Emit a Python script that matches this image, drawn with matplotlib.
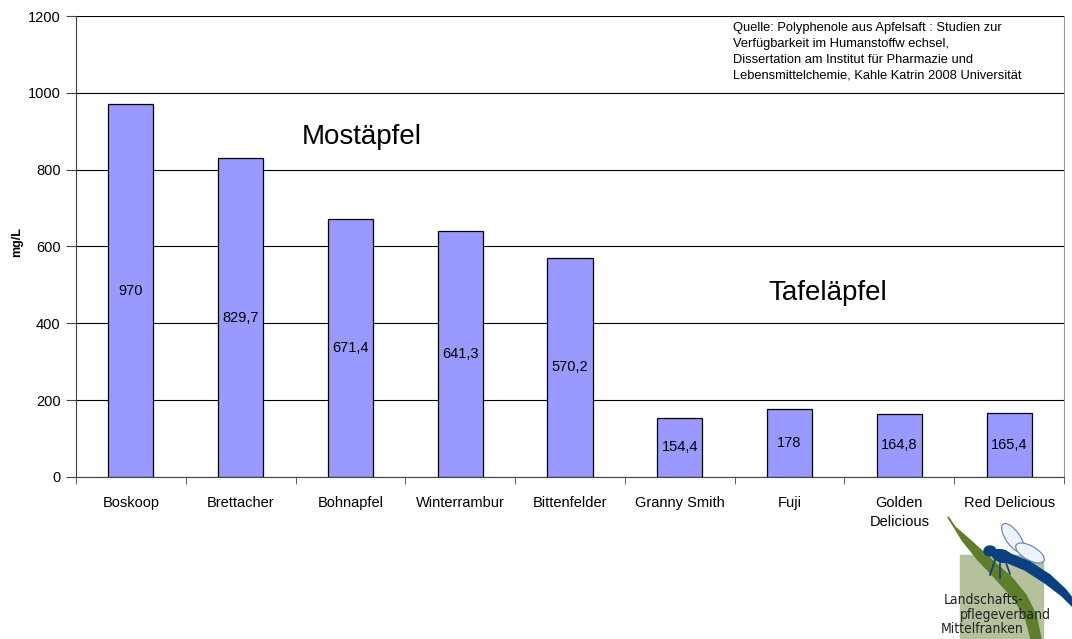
import matplotlib
matplotlib.use("Agg")
import matplotlib.pyplot as plt
from matplotlib.patches import Rectangle, Ellipse, Polygon

plt.rcParams['font.family'] = ['Liberation Sans', 'DejaVu Sans']

categories = ["Boskoop", "Brettacher", "Bohnapfel", "Winterrambur", "Bittenfelder",
              "Granny Smith", "Fuji", "Golden\nDelicious", "Red Delicious"]
values = [970, 829.7, 671.4, 641.3, 570.2, 154.4, 178, 164.8, 165.4]
value_labels = ["970", "829,7", "671,4", "641,3", "570,2", "154,4", "178", "164,8", "165,4"]
yticks = [0, 200, 400, 600, 800, 1000, 1200]
source = ("Quelle: Polyphenole aus Apfelsaft : Studien zur\n"
          "Verfügbarkeit im Humanstoffw echsel,\n"
          "Dissertation am Institut für Pharmazie und\n"
          "Lebensmittelchemie, Kahle Katrin 2008 Universität")

W, H = 1072, 639
fig = plt.figure(figsize=(W/100, H/100), dpi=100)
ax = fig.add_axes([76/W, 1-477/H, (1064-76)/W, (477-16)/H])

x = list(range(len(categories)))
ax.bar(x, values, width=0.41, color="#9999FF", edgecolor="black", linewidth=0.9, zorder=3)
for xi, v, lab in zip(x, values, value_labels):
    ax.text(xi, v/2, lab, ha="center", va="center", fontsize=10.5, zorder=4)

ax.set_xlim(-0.5, len(categories)-0.5)
ax.set_ylim(0, 1200)
ax.set_yticks(yticks)
ax.set_yticklabels([str(t) for t in yticks], fontsize=10.5)
ax.yaxis.grid(True, color="black", linewidth=0.8, zorder=0)
ax.set_xticks(x)
ax.set_xticklabels(categories, fontsize=10.5, linespacing=1.45)
ax.set_xticks([i + 0.5 for i in range(-1, len(categories))], minor=True)
ax.tick_params(axis="x", which="major", length=0, pad=14)
ax.tick_params(axis="x", which="minor", length=5, direction="out", color="#444444")
ax.tick_params(axis="y", length=7, direction="out", pad=4, color="#444444")
ax.spines["top"].set_visible(False)
ax.spines["right"].set_color("#9a9a9a")
ax.spines["left"].set_color("#444444")
ax.spines["bottom"].set_color("#444444")
fig.text(17/W, 1-242/H, "mg/L", fontsize=9, fontweight="bold", rotation=90,
         ha="center", va="center")

fig.text(302/W, 1-137/H, "Mostäpfel", fontsize=20, ha="left", va="center")
fig.text(768/W, 1-293/H, "Tafeläpfel", fontsize=20, ha="left", va="center")
fig.text(733/W, 1-22/H, source, fontsize=9.3, ha="left", va="top", linespacing=1.42)

# simple logo approximation, drawn in pixel coordinates
lx = fig.add_axes([0, 0, 1, 1], zorder=5)
lx.set_xlim(0, W); lx.set_ylim(H, 0)
lx.axis("off")
lx.patch.set_alpha(0)
lx.add_patch(Rectangle((960, 555), 83, 84, color="#b5c19c"))
leaf = Polygon([(948, 517), (962, 540), (978, 560), (995, 578), (1015, 600), (1026, 620),
                (1031, 639), (1041, 639), (1036, 615), (1026, 595), (1012, 578),
                (992, 560), (970, 540), (955, 527)], closed=True, color="#5e7e2c")
lx.add_patch(leaf)
# wings
lx.add_patch(Ellipse((1013, 538), 14, 34, angle=-35, facecolor="#eef2fa", edgecolor="#5b82b8", linewidth=0.8))
lx.add_patch(Ellipse((1030, 553), 14, 32, angle=-60, facecolor="#eef2fa", edgecolor="#5b82b8", linewidth=0.8))
# body
lx.add_patch(Ellipse((990, 551), 12, 10, color="#0b4080"))
lx.add_patch(Ellipse((1002, 556), 20, 12, angle=15, color="#0b4080"))
tail = Polygon([(1008, 553), (1030, 562), (1050, 575), (1066, 590), (1072, 598), (1072, 606),
                (1062, 596), (1045, 583), (1025, 570), (1006, 562)], closed=True, color="#0b4080")
lx.add_patch(tail)
for (x0, y0, x1, y1) in [(995, 560, 990, 575), (1000, 561, 1000, 578), (1005, 560, 1010, 574)]:
    lx.plot([x0, x1], [y0, y1], color="#0b4080", linewidth=1.2)
lx.text(944, 600, "Landschafts-", fontsize=10, ha="left", va="center", color="#222222",
        family="DejaVu Sans", stretch="condensed")
lx.text(960, 615, "pflegeverband", fontsize=10, ha="left", va="center", color="#222222",
        family="DejaVu Sans", stretch="condensed")
lx.text(941, 629, "Mittelfranken", fontsize=10, ha="left", va="center", color="#222222",
        family="DejaVu Sans", stretch="condensed")

fig.savefig("out.png", dpi=100)
